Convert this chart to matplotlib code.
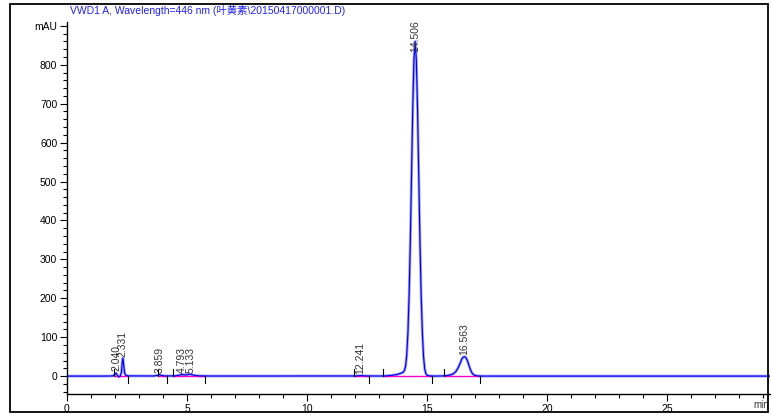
import matplotlib
matplotlib.use("Agg")
import matplotlib.pyplot as plt
from matplotlib.ticker import MultipleLocator
from matplotlib.patches import Rectangle

# ---- data ----
time_min = [0.0, 1.5, 1.9, 1.98, 2.04, 2.09, 2.15, 2.22, 2.27, 2.30, 2.33, 2.36, 2.40, 2.45, 2.55,
            3.6, 3.8, 3.86, 3.92, 4.05, 4.5, 4.65, 4.79, 4.95, 5.13, 5.3, 5.5, 6.0,
            12.0, 12.24, 12.5, 13.0, 13.2, 13.4, 13.6, 13.75, 13.85, 13.95, 14.01, 14.06,
            14.11, 14.16, 14.21, 14.26, 14.31, 14.36, 14.41, 14.46, 14.51, 14.56, 14.61,
            14.66, 14.71, 14.76, 14.81, 14.86, 14.91, 14.96, 15.01, 15.1, 15.3,
            15.6, 15.8, 15.9, 16.0, 16.1, 16.2, 16.3, 16.35, 16.4, 16.45, 16.5, 16.56,
            16.62, 16.68, 16.74, 16.8, 16.86, 16.92, 17.0, 17.1, 17.3, 29.3]
signal_mau = [0.0, 0.0, 0.3, 3.0, 8.0, 3.0, -2.0, 0.0, 10.0, 35.0, 46.0, 30.0, 8.0, 2.0, 0.5,
              0.3, 2.0, 4.0, 2.0, 0.5, 0.5, 2.0, 4.0, 3.0, 5.0, 2.0, 0.5, 0.2,
              0.3, 1.2, 0.3, 0.2, 0.3, 1.0, 2.5, 4.0, 6.0, 8.0, 10.0, 14.0,
              25.0, 54.0, 113.0, 210.0, 349.0, 518.0, 687.0, 813.0, 860.0, 813.0, 687.0,
              518.0, 349.0, 210.0, 113.0, 50.0, 18.0, 6.0, 2.0, 0.5, 0.0,
              0.3, 1.0, 2.0, 3.5, 6.0, 11.0, 21.0, 28.0, 35.0, 43.0, 48.0, 50.0,
              48.0, 41.0, 30.0, 19.0, 10.0, 5.0, 2.0, 0.5, 0.0, 0.0]

peak_rt = [2.040, 2.331, 3.859, 4.793, 5.133, 12.241, 14.506, 16.563]
peak_labels = ["2.040", "2.331", "3.859", "4.793", "5.133", "12.241", "14.506", "16.563"]
peak_height = [8, 46, 4, 4, 5, 1.2, 830, 50]

integ_start = [1.95, 3.78, 4.42, 11.95, 13.17, 15.7]
integ_end = [2.55, 4.17, 5.75, 12.6, 15.2, 17.2]

y_ticks = [0, 100, 200, 300, 400, 500, 600, 700, 800, 900]
y_ticklabels = ["0", "100", "200", "300", "400", "500", "600", "700", "800", "mAU"]
x_ticks = [0, 5, 10, 15, 20, 25]
x_ticklabels = ["0", "5", "10", "15", "20", "25"]
title = "VWD1 A, Wavelength=446 nm (叶黄素\\20150417000001.D)"

# ---- figure ----
plt.rcParams['font.family'] = ['Liberation Sans', 'Noto Sans CJK SC', 'DejaVu Sans']
W, H = 771, 418
fig = plt.figure(figsize=(W / 100, H / 100), dpi=100)

# outer frame
fig.patches.append(Rectangle((10 / W, 1 - 412 / H), 758 / W, 408 / H, transform=fig.transFigure,
                             fill=False, edgecolor='black', linewidth=1.3))

ax = fig.add_axes([67 / W, 1 - 394 / H, (770 - 67) / W, (394 - 22) / H])
ax.set_xlim(0, 29.3)
ax.set_ylim(-46, 910)

for s in ['top', 'right']:
    ax.spines[s].set_visible(False)
for s in ['left', 'bottom']:
    ax.spines[s].set_linewidth(1.0)

# chromatogram: light halo + dark core
ax.plot(time_min, signal_mau, color='#9a9aff', linewidth=2.0, solid_joinstyle='round', zorder=2)
ax.plot(time_min, signal_mau, color='#0000ee', linewidth=0.8, zorder=3)

# integration baselines and event ticks
for s, e in zip(integ_start, integ_end):
    ax.plot([s, e], [-1, -1], color='#ff00cc', linewidth=1.0, zorder=2.5)
    ax.plot([s, s], [0, 18], color='black', linewidth=0.8, zorder=4)
    ax.plot([e, e], [0, -18], color='black', linewidth=0.8, zorder=4)

# peak labels
for rt, lab, h in zip(peak_rt, peak_labels, peak_height):
    ax.text(rt, h + 4, lab, rotation=90, ha='center', va='bottom', fontsize=7.5,
            color='#333333', clip_on=False, zorder=5)

ax.set_yticks(y_ticks)
ax.set_yticklabels(y_ticklabels)
ax.yaxis.set_minor_locator(MultipleLocator(20))
ax.set_xticks(x_ticks)
ax.set_xticklabels(x_ticklabels)
ax.xaxis.set_minor_locator(MultipleLocator(1))
ax.tick_params(axis='both', which='major', labelsize=7.5, length=5, width=0.8, direction='out', pad=2)
ax.tick_params(axis='both', which='minor', length=3, width=0.8, direction='out')

ax.text(0.998, -0.03, "min", transform=ax.transAxes, ha='right', va='center', fontsize=7,
        color='#333333')

fig.text(70 / W, 1 - 10 / H, title, ha='left', va='center', fontsize=7.5, color='#2020ff')

fig.savefig("out.png", dpi=100)
